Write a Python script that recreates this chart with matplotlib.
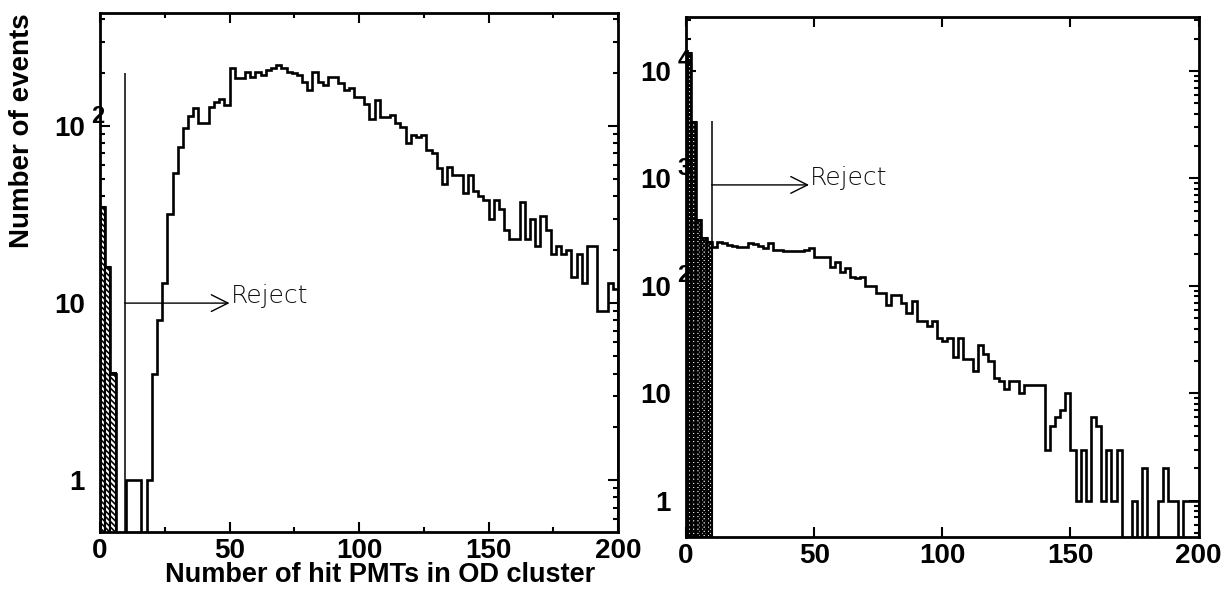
import numpy as np
import matplotlib
matplotlib.use('Agg')
import matplotlib.pyplot as plt
from matplotlib.ticker import LogLocator, MultipleLocator, NullFormatter, NullLocator
from matplotlib.transforms import offset_copy

plt.rcParams['font.family'] = ['Liberation Sans', 'DejaVu Sans']
plt.rcParams['hatch.color'] = 'black'
plt.rcParams['hatch.linewidth'] = 1.2

# 100 bins of width 2 from 0 to 200
edges = np.arange(0, 202, 2)

left_counts = np.array([
    35, 16, 4, 0, 0, 1, 1, 1, 0, 1,
    4, 8, 13, 32, 54, 76, 98, 114, 126, 104,
    104, 128, 137, 142, 131, 212, 186, 186, 203, 190,
    203, 194, 207, 212, 221, 212, 203, 200, 194, 178,
    160, 203, 178, 171, 188, 188, 175, 160, 163, 146,
    146, 134, 110, 140, 113, 113, 115, 104, 99, 80,
    89, 87, 89, 73, 70, 58, 47, 59, 53, 53,
    42, 53, 43, 40, 38, 30, 38, 34, 26, 23,
    23, 37, 23, 30, 21, 31, 26, 19, 21, 19,
    20, 14, 19, 13, 21, 21, 9, 9, 13, 12])
left_rejected = [35, 16, 4]

right_counts = np.array([
    14600, 3380, 411, 278, 256, 232, 258, 250, 241, 236,
    232, 228, 253, 246, 236, 224, 253, 216, 216, 213,
    213, 211, 209, 216, 224, 187, 187, 187, 151, 168,
    136, 146, 122, 118, 122, 100, 100, 86, 86, 67,
    82, 82, 69, 56, 72, 47, 47, 42, 47, 33,
    31, 33, 22, 33, 21, 21, 16, 28, 23, 20,
    14, 13, 11, 13, 13, 10, 12, 12, 12, 12,
    3, 5, 6, 7, 10, 3, 1, 3, 1, 6,
    5, 1, 3, 1, 3, 0, 0, 1, 0, 2,
    0, 0, 1, 2, 1, 1, 0, 1, 1, 1])
right_rejected = [14600, 3380, 411, 278, 256]

x_ticks = [0, 50, 100, 150, 200]
left_decades = [1, 10, 100]
right_decades = [1, 10, 100, 1000, 10000]

# cut markers: (cut position, top of cut line, arrow height, arrow tip)
left_cut = (9.5, 200, 10, 50)
right_cut = (10, 3400, 870, 48)

fig = plt.figure(figsize=(12.29, 5.92), dpi=100)
axL = fig.add_axes([0.0814, 0.1014, 0.4215, 0.8767])
axR = fig.add_axes([0.5582, 0.0929, 0.417, 0.8784])


def panel(ax, counts, rejected, hatch, ylim, decades, cut, minor_x):
    ax.set_yscale('log')
    n = len(rejected)
    ax.bar(edges[:n], rejected, width=2, align='edge', bottom=0.01,
           facecolor='white', edgecolor='black', hatch=hatch,
           linewidth=1.5, zorder=2)
    ax.stairs(np.maximum(counts, 0.01), edges, baseline=0.01,
              color='black', linewidth=1.9, zorder=3)
    xc, ytop, ya, xa = cut
    ax.vlines(xc, ylim[0], ytop, color='black', linewidth=1.1, zorder=3)
    ax.annotate('', xy=(xa, ya), xytext=(xc, ya),
                arrowprops=dict(arrowstyle='->,head_length=0.8,head_width=0.4',
                                lw=1.0, color='black', shrinkA=0, shrinkB=0,
                                mutation_scale=15))
    ax.text(xa + 0.5, ya, 'Reject', fontsize=18, family='DejaVu Sans',
            fontweight='light', ha='left', va='baseline', color='#111111')

    ax.set_xlim(0, 200)
    ax.set_ylim(*ylim)
    ax.set_xticks(x_ticks)
    ax.set_xticklabels([str(t) for t in x_ticks])
    if minor_x:
        ax.xaxis.set_minor_locator(MultipleLocator(25))
    else:
        ax.xaxis.set_minor_locator(NullLocator())
    ax.set_yticks(decades)
    ax.set_yticklabels(['1', '10'] + ['10'] * (len(decades) - 2))
    ax.yaxis.set_minor_locator(LogLocator(base=10, subs=range(2, 10), numticks=20))
    ax.yaxis.set_minor_formatter(NullFormatter())
    ax.tick_params(which='both', direction='in', top=True, right=True, width=1.5)
    ax.tick_params(which='major', length=7.5)
    ax.tick_params(which='minor', length=3.8)
    ax.tick_params(axis='x', labelsize=20, pad=4)
    ax.tick_params(axis='y', labelsize=20, pad=11)
    for lab in ax.get_xticklabels() + ax.get_yticklabels():
        lab.set_fontweight('bold')
    for sp in ax.spines.values():
        sp.set_linewidth(2)
    # exponents of the decade labels sit on the axis line
    tr = offset_copy(ax.get_yaxis_transform(), fig=fig, x=-2, y=10, units='dots')
    for d in decades:
        e = int(round(np.log10(d)))
        if e >= 2:
            ax.text(0, d, str(e), transform=tr, ha='center', va='center',
                    fontsize=17, fontweight='bold', clip_on=False, zorder=5)


panel(axL, left_counts, left_rejected, '\\\\\\\\\\\\', (0.51, 435), left_decades, left_cut, True)
panel(axR, right_counts, right_rejected, 'xxxxxxxx', (0.46, 31800), right_decades, right_cut, False)

fig.text(0.309, 0.029, 'Number of hit PMTs in OD cluster', fontsize=19.5,
         fontweight='bold', ha='center', va='center')
fig.text(0.018, 0.78, 'Number of events', fontsize=20, fontweight='bold',
         rotation=90, ha='center', va='center')

fig.savefig('out.png', dpi=100, facecolor='white')
